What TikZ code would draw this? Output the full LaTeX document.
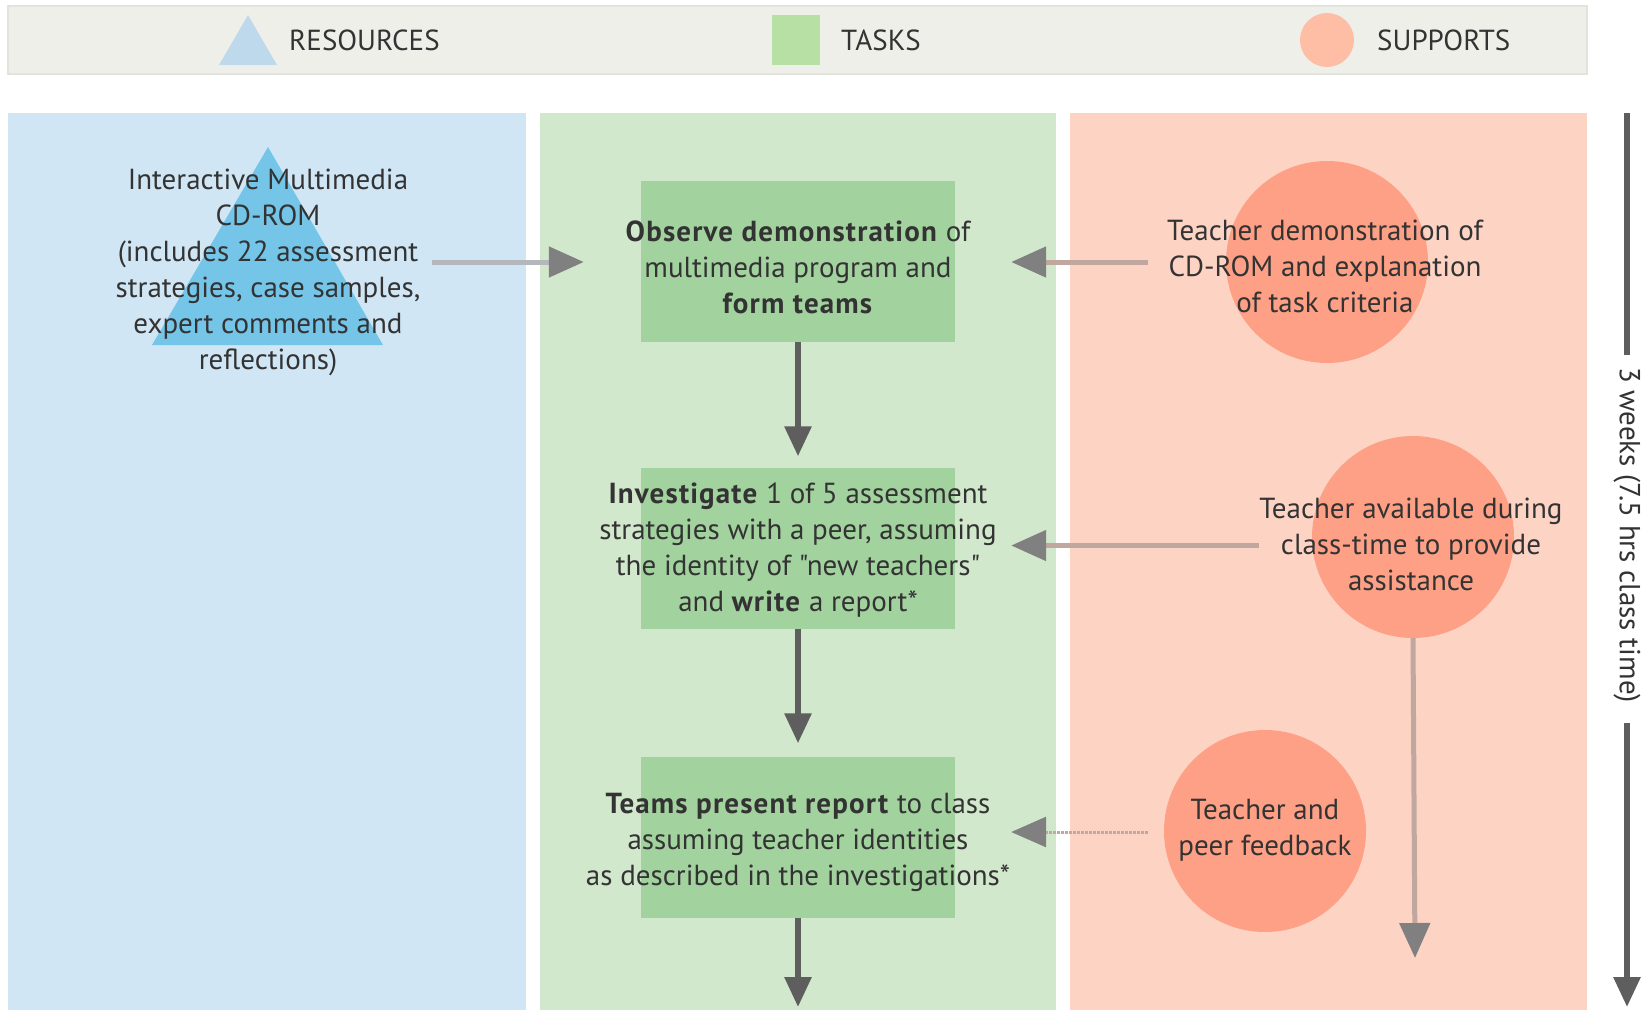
\documentclass[tikz,border=0pt]{standalone}
\usepackage{fontspec}
\setmainfont{PT Sans}[Ligatures=TeXOff, BoldFeatures={LetterSpace=4}]
\usetikzlibrary{arrows.meta,calc}

\definecolor{bandbg}{RGB}{239,239,234}
\definecolor{bandedge}{RGB}{226,227,221}
\definecolor{respanel}{RGB}{208,230,245}
\definecolor{taskpanel}{RGB}{210,232,204}
\definecolor{suppanel}{RGB}{253,211,196}
\definecolor{resshape}{RGB}{116,197,232}
\definecolor{taskshape}{RGB}{162,210,158}
\definecolor{suppshape}{RGB}{253,160,133}
\definecolor{legres}{RGB}{190,217,236}
\definecolor{legtask}{RGB}{183,224,165}
\definecolor{legsupp}{RGB}{253,190,165}
\definecolor{txt}{RGB}{51,51,51}
\definecolor{flowgray}{RGB}{94,94,94}
\definecolor{headgray}{RGB}{128,128,128}
\definecolor{feedgray}{RGB}{180,184,188}
\definecolor{suppline}{RGB}{192,168,160}

\tikzset{
  body/.style={font=\fontsize{29}{36}\selectfont, text=txt, align=center, inner sep=0pt},
  legendtext/.style={font=\fontsize{29}{32}\selectfont, text=txt, anchor=west, inner sep=0pt},
  taskbox/.style={fill=taskshape, draw=none, minimum width=314pt, minimum height=161pt, inner sep=0pt},
  suppcircle/.style={circle, fill=suppshape, draw=none, minimum size=202pt, inner sep=0pt},
  flow/.style={draw=flowgray, line width=6pt, -{Triangle[length=30pt,width=26pt,color=flowgray]}},
  feed/.style={draw=feedgray, line width=5pt, -{Triangle[length=35pt,width=30pt,color=headgray]}},
  suppfeed/.style={draw=suppline, line width=5pt, -{Triangle[length=35pt,width=30pt,color=headgray]}},
}

\begin{document}
\begin{tikzpicture}[x=1pt,y=-1pt]
\useasboundingbox (0,0) rectangle (1648,1010);
\fill[white] (0,0) rectangle (1648,1010);

% legend band
\filldraw[fill=bandbg, draw=bandedge, line width=2pt] (8,6) rectangle (1587,74);
\fill[legres] (219,65) -- (248,15) -- (277,65) -- cycle;
\node[legendtext] (legres) at (289,40) {RESOURCES};
\fill[legtask] (772,15) rectangle (820,65);
\node[legendtext] (legtask) at (841,40) {TASKS};
\fill[legsupp] (1327,40) circle (27);
\node[legendtext] (legsupp) at (1377,40) {SUPPORTS};

% columns
\fill[respanel] (8,113) rectangle (526,1010);
\fill[taskpanel] (540,113) rectangle (1056,1010);
\fill[suppanel] (1070,113) rectangle (1587,1010);

% resource
\fill[resshape] (268,147) -- (383,345) -- (152,345) -- cycle;
\node[body] (res) at (268,272) {Interactive Multimedia\\CD-ROM\\(includes 22 assessment\\strategies, case samples,\\expert comments and\\reflections)};

% tasks
\node[taskbox] (b1) at (798,261.5) {};
\node[taskbox] (b2) at (798,548) {};
\node[taskbox] (b3) at (798,837) {};
\node[body] (t1) at (798,267) {\textbf{Observe demonstration} of\\multimedia program and\\\textbf{form teams}};
\node[body] (t2) at (798,550) {\textbf{Investigate} 1 of 5 assessment\\strategies with a peer, assuming\\the identity of "new teachers"\\and \textbf{write} a report*};
\node[body] (t3) at (798,842) {\textbf{Teams present report} to class\\assuming teacher identities\\as described in the investigations*};

% supports
\node[suppcircle] (c1) at (1327,262) {};
\node[suppcircle] (c2) at (1413,537) {};
\node[suppcircle] (c3) at (1265,831) {};
\node[body] (s1) at (1325,266) {Teacher demonstration of\\CD-ROM and explanation\\of task criteria};
\node[body] (s2) at (1411,544) {Teacher available during\\class-time to provide\\assistance};
\node[body] (s3) at (1265,830) {Teacher and\\peer feedback};

% connector ends
\coordinate (resout) at (432,262);
\coordinate (s1out) at (1148,262);
\coordinate (s2out) at (1259,545.5);
\coordinate (s3out) at (1148,832);
\coordinate (c2end) at (1415,958);
\coordinate (b3end) at (798,1007);

% task sequence
\draw[flow, shorten >=11pt] (b1.south) -- (b2.north);
\draw[flow, shorten >=13pt] (b2.south) -- (b3.north);
\draw[flow] (b3.south) -- (b3end);

% inputs to tasks
\draw[feed, shorten >=57pt] (resout) -- (resout -| b1.west);
\draw[suppfeed, shorten >=56pt] (s1out) -- (s1out -| b1.east);
\draw[suppfeed, shorten >=56pt] (s2out) -- (s2out -| b2.east);
\draw[suppfeed, line width=3pt, densely dotted, shorten >=56pt] (s3out) -- (s3out -| b3.east);
\draw[suppfeed] (c2.south) -- (c2end);

% time line
\coordinate (tltop) at (1627,113);
\coordinate (tlgapa) at (1627,355);
\coordinate (tlgapb) at (1627,723);
\coordinate (tlbot) at (1627,1007);
\node[font=\fontsize{29}{32}\selectfont, text=txt, inner sep=0pt, rotate=-90] (tl) at (1627,535) {3 weeks (7.5 hrs class time)};
\draw[flowgray, line width=6pt] (tltop) -- (tlgapa);
\draw[flow] (tlgapb) -- (tlbot);
\end{tikzpicture}
\end{document}
